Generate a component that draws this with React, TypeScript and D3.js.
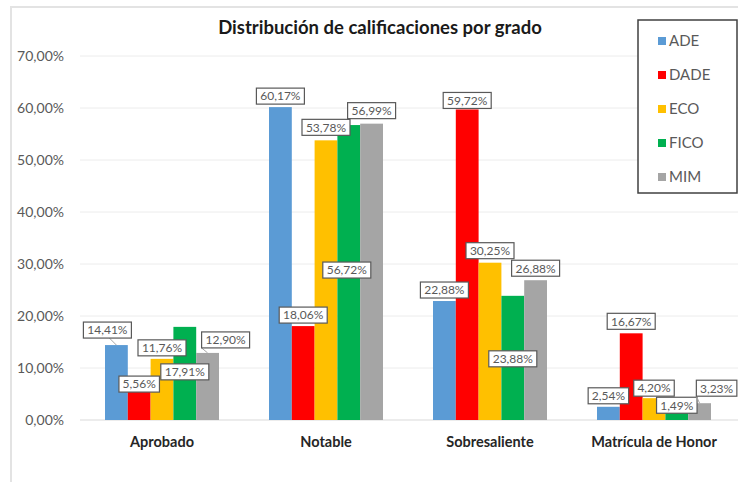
import React from 'react'
import * as d3 from 'd3'

const categories = ['Aprobado', 'Notable', 'Sobresaliente', 'Matrícula de Honor']
const seriesNames = ['ADE', 'DADE', 'ECO', 'FICO', 'MIM']
const seriesColors = ['#5b9bd5', '#ff0000', '#ffc000', '#00b050', '#a5a5a5']

// values per series, in order of categories
const ADE = [14.41, 60.17, 22.88, 2.54]
const DADE = [5.56, 18.06, 59.72, 16.67]
const ECO = [11.76, 53.78, 30.25, 4.2]
const FICO = [17.91, 56.72, 23.88, 1.49]
const MIM = [12.9, 56.99, 26.88, 3.23]
const seriesValues = [ADE, DADE, ECO, FICO, MIM]

const yTicks = [0, 10, 20, 30, 40, 50, 60, 70]

// label nudges [dx, dy] from the bar top centre, same order as seriesValues
const labelNudge: [number, number][][] = [
  [[-9, -15], [0, -11], [0, -11], [0, -11]],
  [[0, -7], [0, -11], [0, -9], [0, -12]],
  [[0, -11], [0, -13], [0, -12], [0, -10]],
  [[0, 45], [-2, 145], [0, 63], [0, -7]],
  [[18, -13], [0, -13], [0, -12], [17, -15]],
]

const W = 738
const H = 482
const fmt = (v: number) => v.toFixed(2).replace('.', ',') + '%'
const font = 'Lato, "Open Sans", sans-serif'

export default function App() {
  const x0 = d3.scaleBand<string>().domain(categories).range([80, 736])
  const bw = x0.bandwidth()
  const x1 = d3
    .scaleBand<string>()
    .domain(seriesNames)
    .range([(bw - 114) / 2, (bw + 114) / 2])
  const y = d3.scaleLinear().domain([0, 70]).range([420, 56])

  return (
    <svg width={W} height={H} style={{ position: 'absolute', left: 0, top: 0, background: '#fff' }}>
      {/* chart frame */}
      <path d={`M11,${H} V7 H${W}`} fill="none" stroke="#e3e3e3" strokeWidth={2} />

      <text x={380} y={34} textAnchor="middle" fontFamily={font} fontWeight="bold" fontSize={18.5} fill="#1a1a1a">
        Distribución de calificaciones por grado
      </text>

      {yTicks.map(t => (
        <g key={t}>
          <line x1={80} x2={W} y1={y(t)} y2={y(t)} stroke={t === 0 ? '#d9d9d9' : '#ececec'} strokeWidth={1} />
          <text x={64} y={y(t)} dy="0.35em" textAnchor="end" fontFamily={font} fontSize={14} fill="#595959">
            {fmt(t)}
          </text>
        </g>
      ))}

      {categories.map((c, i) => (
        <text
          key={c}
          x={(x0(c) as number) + bw / 2}
          y={447}
          textAnchor="middle"
          fontFamily={font}
          fontWeight="bold"
          fontSize={14.5}
          fill="#262626"
        >
          {c}
        </text>
      ))}

      {seriesValues.map((vals, s) =>
        vals.map((v, i) => {
          const bx = (x0(categories[i]) as number) + (x1(seriesNames[s]) as number)
          return (
            <rect
              key={`b${s}-${i}`}
              x={bx}
              y={y(v)}
              width={x1.bandwidth()}
              height={y(0) - y(v)}
              fill={seriesColors[s]}
            />
          )
        })
      )}

      {seriesValues.map((vals, s) =>
        vals.map((v, i) => {
          const cx = (x0(categories[i]) as number) + (x1(seriesNames[s]) as number) + x1.bandwidth() / 2
          const [dx, dy] = labelNudge[s][i]
          const lx = cx + dx
          const ly = y(v) + dy
          const txt = fmt(v)
          const w = txt.length * 7.5 + 3
          const h = 16
          return (
            <g key={`l${s}-${i}`}>
              {Math.abs(dx) > 5 && (
                <line
                  x1={dx > 0 ? lx - w / 2 : lx + 2}
                  y1={ly + h / 2}
                  x2={cx}
                  y2={y(v)}
                  stroke="#a6a6a6"
                  strokeWidth={1}
                />
              )}
              <rect
                x={lx - w / 2}
                y={ly - h / 2}
                width={w}
                height={h}
                fill="#fff"
                stroke="#595959"
                strokeWidth={1.2}
              />
              <text x={lx} y={ly} dy="0.36em" textAnchor="middle" fontFamily={font} fontSize={12} fill="#595959">
                {txt}
              </text>
            </g>
          )
        })
      )}

      {/* legend */}
      <rect x={638} y={20} width={99} height={173} fill="#fff" stroke="#404040" strokeWidth={1.5} />
      {seriesNames.map((n, s) => {
        const ly = 41 + s * 34
        return (
          <g key={n}>
            <rect x={658} y={ly - 4} width={8} height={8} fill={seriesColors[s]} />
            <text x={669} y={ly} dy="0.36em" fontFamily={font} fontSize={15} fill="#595959">
              {n}
            </text>
          </g>
        )
      })}
    </svg>
  )
}
